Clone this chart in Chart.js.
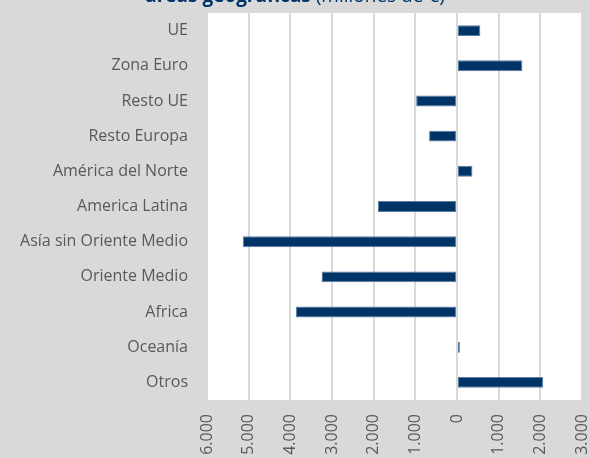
<!DOCTYPE html>
<html>
<head>
<meta charset="utf-8">
<script src="https://cdn.jsdelivr.net/npm/chart.js@4"></script>
<style>
  html, body { margin: 0; padding: 0; background: #d9d9d9; }
  #wrap { width: 590px; height: 458px; }
</style>
</head>
<body>
<div id="wrap"><canvas id="barChart"></canvas></div>
<script>
// datos (millones de €)
const regions = [
  "UE",
  "Zona Euro",
  "Resto UE",
  "Resto Europa",
  "América del Norte",
  "America Latina",
  "Asía sin Oriente Medio",
  "Oriente Medio",
  "Africa",
  "Oceanía",
  "Otros",
];
const saldo = [560, 1570, -980, -670, 370, -1900, -5140, -3250, -3870, 70, 2070];
const xMin = -6000;
const xMax = 3000;
const xStep = 1000;

const FONT = "'Open Sans', sans-serif";

// white plot area + clipped title
const plotBg = {
  id: "plotBg",
  beforeDraw(chart) {
    const { ctx, chartArea: a } = chart;
    ctx.save();
    ctx.fillStyle = "#ffffff";
    ctx.fillRect(a.left, a.top, a.right - a.left, a.bottom - a.top);
    ctx.restore();
  },
  afterDraw(chart) {
    const ctx = chart.ctx;
    const bold = "áreas geográficas ";
    const rest = "(millones de €)";
    ctx.save();
    ctx.fillStyle = "#003366";
    ctx.textBaseline = "alphabetic";
    ctx.font = "bold 19px " + FONT;
    const w1 = ctx.measureText(bold).width;
    ctx.font = "19px " + FONT;
    const w2 = ctx.measureText(rest).width;
    let x = 295 - (w1 + w2) / 2;
    ctx.font = "bold 19px " + FONT;
    ctx.fillText(bold, x, 2);
    ctx.font = "19px " + FONT;
    ctx.fillText(rest, x + w1, 2);
    ctx.restore();
  },
};

new Chart(document.getElementById("barChart"), {
  type: "bar",
  data: {
    labels: regions,
    datasets: [
      {
        data: saldo,
        backgroundColor: "#003366",
        borderColor: "#5a7ea4",
        borderWidth: 1,
        borderSkipped: false,
        barPercentage: 0.31,
        categoryPercentage: 1,
      },
    ],
  },
  options: {
    indexAxis: "y",
    responsive: true,
    maintainAspectRatio: false,
    animation: false,
    layout: { padding: { top: 13, right: 8, left: 0, bottom: 0 } },
    plugins: {
      legend: { display: false },
      tooltip: { enabled: false },
    },
    scales: {
      x: {
        min: xMin,
        max: xMax,
        border: { display: false },
        grid: { color: "#d9d9d9", lineWidth: 2, drawTicks: false },
        ticks: {
          stepSize: xStep,
          minRotation: 90,
          maxRotation: 90,
          padding: 14,
          color: "#595959",
          font: { family: FONT, size: 16 },
          callback: (v) => Math.abs(v).toLocaleString("de-DE"),
        },
        afterFit(scale) {
          scale.height = 58;
          scale.paddingLeft = 0;
          scale.paddingRight = 0;
        },
      },
      y: {
        border: { display: false },
        grid: { display: false, drawTicks: false },
        ticks: {
          padding: 19,
          color: "#595959",
          font: { family: FONT, size: 16 },
        },
        afterFit(scale) {
          scale.width = 207;
          scale.paddingTop = 0;
          scale.paddingBottom = 0;
        },
      },
    },
  },
  plugins: [plotBg],
});
</script>
</body>
</html>
